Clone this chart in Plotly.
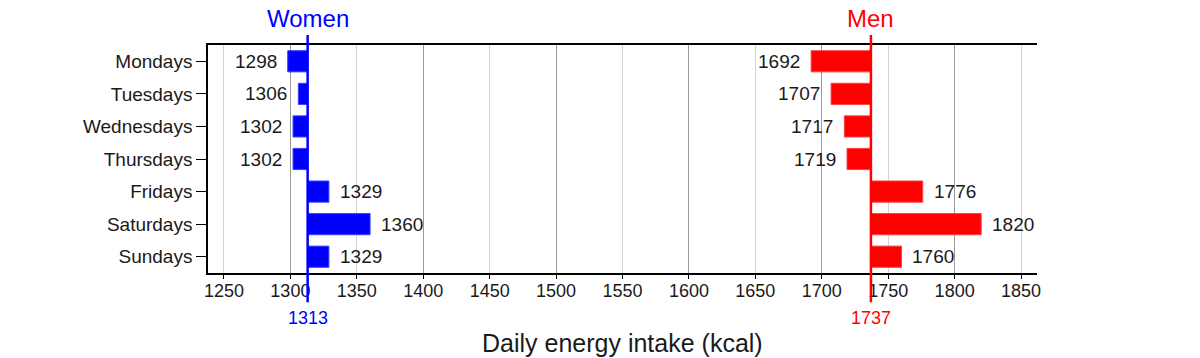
import plotly.graph_objects as go

days = ["Mondays", "Tuesdays", "Wednesdays", "Thursdays", "Fridays", "Saturdays", "Sundays"]
women = [1298, 1306, 1302, 1302, 1329, 1360, 1329]
men = [1692, 1707, 1717, 1719, 1776, 1820, 1760]
women_mean = 1313
men_mean = 1737
x_ticks = [1250, 1300, 1350, 1400, 1450, 1500, 1550, 1600, 1650, 1700, 1750, 1800, 1850]
x_range = [1238, 1862]

FONT = "Liberation Sans, Arial, sans-serif"
TXT = "#1a1a1a"
groups = [
    ("Women", women, women_mean, "#0000ff", "#3f3fff"),
    ("Men", men, men_mean, "#ff0000", "#ff4040"),
]

fig = go.Figure()
annotations = []
shapes = []
for name, vals, mean, col, edge in groups:
    fig.add_trace(go.Bar(
        y=days, x=[v - mean for v in vals], base=mean, orientation="h",
        width=0.65, marker=dict(color=col, line=dict(color=edge, width=1)),
        showlegend=False, hoverinfo="skip",
    ))
    for d, v in zip(days, vals):
        annotations.append(dict(
            x=v, y=d, xref="x", yref="y", text=str(v), showarrow=False,
            xanchor="right" if v < mean else "left",
            xshift=-9 if v < mean else 9,
            font=dict(family=FONT, size=19, color=TXT),
        ))
    shapes.append(dict(type="line", xref="x", yref="paper", x0=mean, x1=mean,
                       y0=-0.128, y1=1.044, line=dict(color=col, width=2.5), layer="above"))
    annotations.append(dict(x=mean, y=1.115, xref="x", yref="paper", text=name,
                            showarrow=False, xanchor="center", yanchor="middle",
                            font=dict(family=FONT, size=24, color=col)))
    annotations.append(dict(x=mean, y=-0.197, xref="x", yref="paper", text=str(mean),
                            showarrow=False, xanchor="center", yanchor="middle",
                            font=dict(family=FONT, size=18, color=col)))

annotations.append(dict(x=0.5, y=-0.305, xref="paper", yref="paper",
                        text="Daily energy intake (kcal)", showarrow=False,
                        xanchor="center", yanchor="middle",
                        font=dict(family=FONT, size=25, color=TXT)))

# overlay axis for darker gridlines at hundreds
fig.add_trace(go.Scatter(x=[x_range[0]], y=[days[0]], xaxis="x2", mode="markers",
                         marker=dict(opacity=0), showlegend=False, hoverinfo="skip"))

fig.update_layout(
    width=1200, height=358,
    margin=dict(l=208, r=163, t=45, b=85),
    paper_bgcolor="white", plot_bgcolor="white",
    barmode="overlay",
    font=dict(family=FONT, size=19, color=TXT),
    xaxis=dict(range=x_range, tickvals=x_ticks, showgrid=True, gridcolor="#d4d4d4",
               gridwidth=1, zeroline=False, showline=True, linecolor="black",
               linewidth=1.5, mirror=True, ticks="outside", ticklen=4,
               ticklabelstandoff=-3,
               tickcolor="black", tickfont=dict(size=18, color=TXT)),
    xaxis2=dict(range=x_range, overlaying="x", matches=None, tick0=1300, dtick=100,
                showgrid=True, gridcolor="#9a9a9a", gridwidth=1, showticklabels=False,
                zeroline=False, showline=False, side="bottom", ticks=""),
    yaxis=dict(categoryorder="array", categoryarray=days, autorange="reversed",
               showgrid=False, zeroline=False, showline=True, linecolor="black",
               linewidth=1.5, ticks="outside", ticklen=10, tickcolor="black",
               tickfont=dict(size=19, color=TXT)),
    annotations=annotations, shapes=shapes,
)
fig.write_html("out.html", config={"displayModeBar": False},
               post_script="document.body.style.margin='0';document.body.style.overflow='hidden';")
